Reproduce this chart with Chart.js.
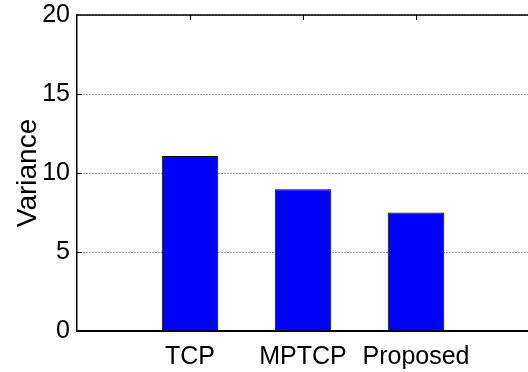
<!DOCTYPE html>
<html>
<head>
<meta charset="utf-8">
<script src="https://cdn.jsdelivr.net/npm/chart.js@4/dist/chart.umd.min.js"></script>
<style>
  html, body { margin: 0; padding: 0; background: #fff; overflow: hidden; }
  #wrap { width: 528px; height: 372px; overflow: hidden; }
  canvas { display: block; }
</style>
</head>
<body>
<div id="wrap"><canvas id="c" width="540" height="372"></canvas></div>
<script>
// Variance per transport scheme
const categories = ['TCP', 'MPTCP', 'Proposed'];
const variance = [11.07, 8.97, 7.5];
const yTicks = [0, 5, 10, 15, 20];

// one empty slot on each side so the bars sit at 1/4, 2/4, 3/4 of the axis
const labels = ['', ...categories, ''];
const values = [null, ...variance, null];

const FONT = 'Liberation Sans, Arial, Helvetica, sans-serif';

// top frame line plus short inward tick marks (MATLAB-style box)
const frame = {
  id: 'frame',
  afterDatasetsDraw(chart) {
    const { ctx, chartArea: a, scales: { x, y } } = chart;
    ctx.save();
    ctx.strokeStyle = '#000';
    ctx.lineWidth = 1.5;
    ctx.beginPath();
    ctx.moveTo(a.left, a.top);
    ctx.lineTo(a.right + 2, a.top);
    ctx.stroke();
    ctx.lineWidth = 1;
    ctx.beginPath();
    categories.forEach((_, i) => {
      const px = Math.round(x.getPixelForValue(i + 1)) + 0.5;
      ctx.moveTo(px, a.top);
      ctx.lineTo(px, a.top + 5);
    });
    yTicks.slice(1, -1).forEach(v => {
      const py = Math.round(y.getPixelForValue(v)) + 0.5;
      ctx.moveTo(a.left, py);
      ctx.lineTo(a.left + 5, py);
    });
    ctx.stroke();
    ctx.restore();
  }
};

new Chart(document.getElementById('c'), {
  type: 'bar',
  data: {
    labels: labels,
    datasets: [{
      data: values,
      backgroundColor: '#0000ff',
      borderColor: '#000',
      borderWidth: 1,
      categoryPercentage: 1,
      barPercentage: 0.5
    }]
  },
  options: {
    responsive: false,
    animation: false,
    devicePixelRatio: 1,
    layout: { padding: { top: 15, right: 9, left: 0, bottom: 0 } },
    plugins: { legend: { display: false }, tooltip: { enabled: false } },
    scales: {
      x: {
        offset: false,
        grid: { display: false, drawTicks: false },
        border: { display: true, color: '#000', width: 2 },
        ticks: {
          color: '#000',
          font: { family: FONT, size: 25 },
          padding: 11,
          maxRotation: 0,
          autoSkip: false
        },
        afterFit(s) { s.height = 41; }
      },
      y: {
        min: 0,
        max: 20,
        afterBuildTicks(s) { s.ticks = yTicks.map(v => ({ value: v })); },
        grid: {
          drawTicks: false,
          color: 'rgba(0,0,0,0.75)',
          lineWidth: 1
        },
        border: { display: true, color: '#000', width: 1.5, dash: [1, 2] },
        ticks: {
          color: '#000',
          font: { family: FONT, size: 25 },
          padding: 7
        },
        title: {
          display: true,
          text: 'Variance',
          color: '#000',
          font: { family: FONT, size: 28 },
          padding: { top: 11, bottom: 0 }
        },
        afterFit(s) {
          s.width = 77;
          s.paddingTop = 0;
          s.paddingBottom = 0;
        }
      }
    }
  },
  plugins: [frame]
});
</script>
</body>
</html>
